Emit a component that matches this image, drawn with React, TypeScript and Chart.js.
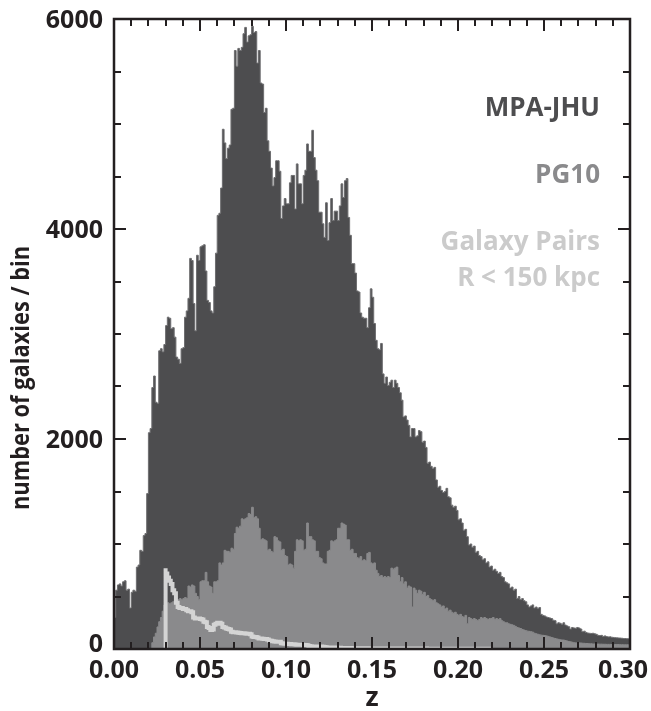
import React, { useEffect, useRef } from "react";
import { Chart, registerables } from "chart.js";

Chart.register(...registerables);

// Redshift histogram, bins of width 0.001 starting at z = 0
const BIN_WIDTH = 0.001;

// MPA-JHU catalogue, galaxies per bin
const mpaJhu = [
  150, 300, 560, 610, 620, 600, 640, 650, 560, 570,
  390, 540, 560, 550, 780, 800, 940, 930, 1080, 1100,
  1480, 2060, 2100, 2490, 2600, 2350, 2340, 2840, 2860, 2830,
  2900, 3080, 3160, 3150, 3050, 3060, 2970, 2780, 2760, 2720,
  2860, 2870, 3160, 3220, 3340, 3720, 3700, 3290, 3030, 3750,
  3700, 3830, 3840, 3850, 3600, 3320, 3300, 3220, 3200, 3450,
  3770, 4130, 4150, 4390, 4950, 4820, 4670, 4770, 4800, 5140,
  5150, 5700, 5550, 5720, 5700, 5730, 5860, 5920, 5780, 5840,
  5850, 5930, 5870, 5880, 5580, 5700, 5390, 5380, 5110, 5150,
  4840, 4740, 4580, 4410, 4490, 4650, 4650, 4550, 4100, 4220,
  4290, 4240, 4240, 4440, 4510, 4510, 4190, 4620, 4430, 4430,
  4240, 4510, 4560, 4810, 4740, 4740, 4940, 4680, 4560, 4460,
  4160, 4160, 4050, 3920, 4250, 3890, 4060, 4290, 4080, 4170,
  4170, 4080, 4220, 4430, 4300, 4460, 4480, 4110, 3940, 3670,
  3670, 3580, 3410, 3400, 3200, 3160, 3150, 3150, 3060, 3250,
  3430, 3350, 3100, 2940, 2860, 2850, 2910, 2620, 2530, 2590,
  2510, 2540, 2560, 2490, 2560, 2530, 2490, 2440, 2370, 2210,
  2220, 2180, 2130, 2020, 2100, 2100, 2020, 2030, 2080, 2070,
  1970, 1980, 1920, 1770, 1780, 1740, 1720, 1730, 1610, 1540,
  1550, 1510, 1490, 1500, 1530, 1450, 1440, 1370, 1350, 1360,
  1320, 1230, 1240, 1200, 1130, 1140, 1070, 990, 1000, 970,
  980, 920, 930, 890, 880, 850, 860, 820, 830, 780,
  790, 750, 760, 740, 720, 730, 690, 680, 640, 630,
  620, 580, 590, 560, 570, 480, 500, 470, 480, 460,
  450, 420, 400, 410, 420, 390, 400, 385, 395, 330,
  320, 315, 305, 300, 295, 290, 275, 270, 240, 250,
  245, 235, 250, 228, 220, 212, 190, 205, 200, 198,
  205, 200, 190, 165, 170, 158, 152, 150, 148, 150,
  145, 140, 130, 128, 130, 120, 125, 118, 115, 116,
  112, 110, 108, 106, 105, 104, 102, 100, 100, 98,
];

// PG10 sample, galaxies per bin
const pg10 = [
  0, 0, 0, 0, 0, 0, 0, 0, 0, 0,
  0, 0, 0, 0, 0, 0, 0, 0, 0, 0,
  0, 0, 0, 60, 115, 150, 210, 260, 300, 360,
  420, 430, 440, 430, 440, 450, 460, 470, 470, 480,
  470, 480, 490, 480, 600, 590, 610, 600, 530, 500,
  470, 640, 650, 650, 730, 640, 600, 590, 530, 640,
  640, 650, 820, 800, 820, 940, 930, 930, 920, 960,
  950, 1100, 1160, 1150, 1170, 1240, 1230, 1240, 1250, 1290,
  1280, 1350, 1250, 1260, 1240, 1150, 1040, 1050, 1040, 1030,
  940, 950, 930, 920, 1070, 1060, 1030, 1020, 940, 950,
  890, 880, 800, 810, 800, 770, 930, 1040, 1030, 1040,
  1030, 940, 950, 1200, 1070, 1070, 1040, 1030, 930, 930,
  870, 860, 820, 810, 810, 930, 940, 1030, 1020, 1030,
  1040, 1150, 1150, 1200, 1190, 1180, 1040, 1040, 940, 950,
  910, 910, 870, 860, 880, 840, 850, 840, 910, 920,
  820, 810, 820, 750, 720, 690, 700, 680, 690, 680,
  690, 680, 770, 760, 770, 780, 700, 640, 680, 620,
  640, 580, 600, 590, 400, 580, 560, 530, 560, 550,
  520, 540, 500, 510, 480, 470, 460, 470, 440, 430,
  420, 400, 410, 380, 390, 360, 370, 350, 340, 350,
  330, 320, 330, 310, 300, 320, 240, 300, 290, 280,
  290, 280, 270, 280, 300, 290, 300, 290, 280, 290,
  290, 300, 280, 290, 280, 290, 270, 260, 250, 250,
  240, 235, 230, 225, 215, 205, 200, 195, 185, 180,
  175, 170, 168, 165, 160, 150, 145, 140, 135, 132,
  130, 128, 125, 120, 115, 110, 105, 100, 96, 92,
  88, 86, 85, 80, 76, 72, 68, 64, 60, 58,
  60, 58, 57, 55, 54, 52, 52, 50, 50, 48,
  48, 47, 47, 46, 46, 45, 45, 44, 44, 44,
  43, 43, 42, 42, 42, 41, 41, 40, 40, 40,
];

// Galaxy pairs with projected separation R < 150 kpc, from z = 0.030
const PAIRS_START = 0.03;
const galaxyPairs = [
  770, 720, 680, 650, 620, 560, 530, 440, 400, 390,
  390, 380, 380, 370, 360, 360, 350, 300, 290, 290,
  290, 285, 280, 260, 255, 210, 200, 180, 185, 230,
  240, 250, 250, 240, 210, 205, 195, 190, 185, 165,
  160, 160, 158, 155, 152, 150, 150, 148, 145, 145,
  140, 120, 115, 115, 110, 100, 100, 98, 95, 95,
  90, 80, 78, 75, 72, 70, 70, 68, 55, 52,
  50, 50, 48, 48, 46, 45, 42, 40, 40, 40,
  40, 38, 38, 36, 28, 26, 25, 25, 24, 25,
  24, 24, 22, 20, 16, 15, 15, 15, 14, 14,
  14, 13, 12, 10, 10, 10, 10, 9, 9, 8,
  8, 8, 7, 7, 7, 6, 6, 6, 6, 5,
  5, 5, 5, 5, 5, 5, 5, 5, 5, 5,
  5, 5, 4, 4, 4, 4, 4, 4, 4, 4,
  4, 4, 4, 4, 4, 4, 4, 4, 4, 4,
  4, 4, 4, 3, 3, 3, 3, 3, 3, 3,
  3, 3, 3, 3, 3, 3, 3, 3, 3, 3,
  3, 3, 3, 3, 3, 3, 3, 3, 3, 3,
  3, 3, 3, 3, 3, 3, 3, 3, 3, 3,
];

// Axis ticks and labels
const xMajorTicks = [0, 0.05, 0.1, 0.15, 0.2, 0.25, 0.3];
const xTickLabels = ["0.00", "0.05", "0.10", "0.15", "0.20", "0.25", "0.30"];
const xMinorTicks = [
  0.01, 0.02, 0.03, 0.04, 0.06, 0.07, 0.08, 0.09, 0.11, 0.12, 0.13, 0.14,
  0.16, 0.17, 0.18, 0.19, 0.21, 0.22, 0.23, 0.24, 0.26, 0.27, 0.28, 0.29,
];
const yMajorTicks = [0, 2000, 4000, 6000];
const yTickLabels = ["0", "2000", "4000", "6000"];
const yMinorTicks = [500, 1000, 1500, 2500, 3000, 3500, 4500, 5000, 5500];

const xTitle = "z";
const yTitle = "number of galaxies / bin";

const INK = "#231f20";
const DARK = "#4d4d4f";
const MID = "#8a8a8c";
const LIGHT = "#d4d4d4";

// Key text drawn at the upper right, in the colour of each series
const keyLines = [
  { text: "MPA-JHU", color: DARK, baseline: 116 },
  { text: "PG10", color: MID, baseline: 183 },
  { text: "Galaxy Pairs", color: "#cbcbcb", baseline: 250 },
  { text: "R < 150 kpc", color: "#cbcbcb", baseline: 286 },
];

const FONT = '"Open Sans", "DejaVu Sans", sans-serif';

function histPoints(values: number[], start: number) {
  const pts = values.map((v, i) => ({ x: start + i * BIN_WIDTH, y: v }));
  pts.push({ x: start + values.length * BIN_WIDTH, y: values[values.length - 1] });
  return pts;
}

const axesPlugin = {
  id: "insideAxes",
  afterDatasetsDraw(chart: any) {
    const { ctx, chartArea: a, scales } = chart;
    const xs = scales.x;
    const ys = scales.y;
    const MAJOR = 12;
    const MINOR = 7;
    ctx.save();
    ctx.strokeStyle = INK;
    ctx.lineWidth = 2;
    ctx.lineCap = "butt";
    const seg = (x1: number, y1: number, x2: number, y2: number) => {
      ctx.beginPath();
      ctx.moveTo(x1, y1);
      ctx.lineTo(x2, y2);
      ctx.stroke();
    };
    const xTick = (v: number, len: number) => {
      const px = Math.round(xs.getPixelForValue(v));
      seg(px, a.bottom, px, a.bottom - len);
      seg(px, a.top, px, a.top + len);
    };
    const yTick = (v: number, len: number) => {
      const py = Math.round(ys.getPixelForValue(v));
      seg(a.left, py, a.left + len, py);
      seg(a.right, py, a.right - len, py);
    };
    xMajorTicks.forEach((v) => xTick(v, MAJOR));
    xMinorTicks.forEach((v) => xTick(v, MINOR));
    yMajorTicks.forEach((v) => yTick(v, MAJOR));
    yMinorTicks.forEach((v) => yTick(v, MINOR));
    ctx.lineWidth = 2.5;
    ctx.strokeRect(a.left, a.top, a.right - a.left, a.bottom - a.top);
    ctx.restore();
  },
  afterDraw(chart: any) {
    const { ctx, chartArea: a, scales, width } = chart;
    const xs = scales.x;
    const ys = scales.y;
    ctx.save();
    ctx.fillStyle = INK;
    ctx.font = `700 25px ${FONT}`;
    ctx.textBaseline = "alphabetic";
    ctx.textAlign = "center";
    xMajorTicks.forEach((v, i) => {
      const w = ctx.measureText(xTickLabels[i]).width;
      let cx = xs.getPixelForValue(v);
      cx = Math.min(cx, width - 3 - w / 2);
      ctx.fillText(xTickLabels[i], cx, a.bottom + 29);
    });
    ctx.textAlign = "right";
    yMajorTicks.forEach((v, i) => {
      const py = ys.getPixelForValue(v);
      ctx.fillText(yTickLabels[i], a.left - 11, Math.min(py + 9, a.bottom + 3));
    });

    // axis titles
    ctx.textAlign = "center";
    ctx.font = `700 27px ${FONT}`;
    ctx.fillText(xTitle, (a.left + a.right) / 2, a.bottom + 57);

    ctx.font = `700 25px ${FONT}`;
    const tw = ctx.measureText(yTitle).width;
    const squeeze = Math.min(1, 264 / tw);
    ctx.translate(29, 378);
    ctx.rotate(-Math.PI / 2);
    ctx.scale(squeeze, 1);
    ctx.textBaseline = "alphabetic";
    ctx.fillText(yTitle, 0, 0);
    ctx.setTransform(1, 0, 0, 1, 0, 0);
    ctx.restore();

    // series key
    ctx.save();
    ctx.font = `700 26px ${FONT}`;
    ctx.textAlign = "right";
    ctx.textBaseline = "alphabetic";
    keyLines.forEach((k) => {
      ctx.fillStyle = k.color;
      ctx.fillText(k.text, 600, k.baseline);
    });
    ctx.restore();
  },
};

export default function App() {
  const canvasRef = useRef<HTMLCanvasElement | null>(null);

  useEffect(() => {
    if (!canvasRef.current) return;
    const chart = new Chart(canvasRef.current, {
      type: "line",
      data: {
        datasets: [
          {
            label: "Galaxy Pairs R < 150 kpc",
            data: [{ x: PAIRS_START, y: 0 }, ...histPoints(galaxyPairs, PAIRS_START)],
            stepped: "after",
            borderColor: LIGHT,
            borderWidth: 4,
            pointRadius: 0,
            fill: false,
            order: 0,
          },
          {
            label: "PG10",
            data: histPoints(pg10, 0),
            stepped: "after",
            borderColor: MID,
            backgroundColor: MID,
            borderWidth: 1,
            pointRadius: 0,
            fill: "origin",
            order: 1,
          },
          {
            label: "MPA-JHU",
            data: histPoints(mpaJhu, 0),
            stepped: "after",
            borderColor: "#6e6e70",
            backgroundColor: DARK,
            borderWidth: 1,
            pointRadius: 0,
            fill: "origin",
            order: 2,
          },
        ],
      },
      options: {
        animation: false,
        responsive: true,
        maintainAspectRatio: false,
        layout: { padding: { left: 114, right: 21, top: 19, bottom: 62 } },
        plugins: {
          legend: { display: false },
          tooltip: { enabled: false },
        },
        scales: {
          x: { type: "linear", min: 0, max: 0.3, display: false },
          y: { type: "linear", min: 0, max: 6000, display: false },
        },
      },
      plugins: [axesPlugin],
    });
    return () => chart.destroy();
  }, []);

  return (
    <div style={{ position: "absolute", left: 0, top: 0, width: 651, height: 711, background: "#fff" }}>
      <canvas ref={canvasRef} />
    </div>
  );
}
